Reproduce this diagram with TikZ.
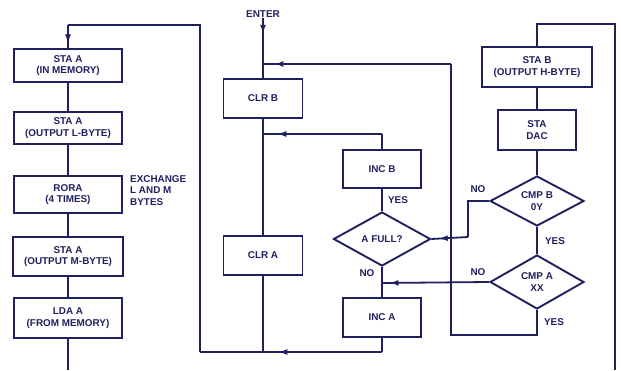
\documentclass[tikz,border=0pt]{standalone}
\usepackage{fontspec}
\setmainfont{Liberation Sans}
\usetikzlibrary{arrows.meta,shapes.geometric,decorations.markings}
\definecolor{ink}{RGB}{32,32,96}
\tikzset{
  line/.style={draw=ink,line width=1.8pt},
  box/.style={draw=ink,line width=1.9pt,rectangle,align=center,inner sep=1pt,text=ink,
    font=\fontsize{9.9}{11.3}\selectfont\bfseries},
  dia/.style={draw=ink,line width=1.9pt,diamond,align=center,inner sep=0pt,text=ink,
    font=\fontsize{9.9}{11.3}\selectfont\bfseries},
  lbl/.style={text=ink,inner sep=0pt,font=\fontsize{9.9}{11.8}\selectfont\bfseries},
  midarrow/.style={postaction={decorate},decoration={markings,
    mark=at position #1 with {\arrow{Latex[length=9pt,width=6pt]}}}},
  midarrow/.default=0.5
}
\begin{document}
\begin{tikzpicture}[x=1pt,y=-1pt]
\useasboundingbox[fill=white] (0,0) rectangle (621,370);
% left column
\node[box,minimum width=108pt,minimum height=33pt] (b1) at (68,65.5) {STA A\\(IN MEMORY)};
\node[box,minimum width=108pt,minimum height=32pt] (b2) at (68,128) {STA A\\(OUTPUT L-BYTE)};
\node[box,minimum width=108pt,minimum height=37pt] (b3) at (68,194.5) {RORA\\(4 TIMES)};
\node[box,minimum width=110pt,minimum height=39pt] (b4) at (68,256.5) {STA A\\(OUTPUT M-BYTE)};
\node[box,minimum width=108pt,minimum height=40pt] (b5) at (68,318) {LDA A\\(FROM MEMORY)};
\node[lbl,align=left,anchor=north west] (exch) at (130,175) {EXCHANGE\\L AND M\\BYTES};
\coordinate (lout) at (68,370);
% middle column
\node[lbl] (enter) at (263,14) {ENTER};
\node[box,minimum width=79pt,minimum height=39pt] (clrb) at (263,98.5) {CLR B};
\node[box,minimum width=79pt,minimum height=39pt] (clra) at (263,255.5) {CLR A};
\coordinate (j1) at (263,64);
\coordinate (j2) at (263,134);
\coordinate (jb) at (263,352);
% right-middle column
\node[box,minimum width=78pt,minimum height=38pt] (incb) at (382,169) {INC B};
\node[dia,minimum width=97pt,minimum height=54pt,aspect=1.8] (afull) at (382,239) {A FULL?};
\node[box,minimum width=78pt,minimum height=39pt] (inca) at (382,317.5) {INC A};
\coordinate (k2) at (382,134);
\coordinate (k3) at (382,283);
\coordinate (kb) at (382,352);
% right column
\node[box,minimum width=110pt,minimum height=40pt] (stab) at (537,67) {STA B\\(OUTPUT H-BYTE)};
\node[box,minimum width=78pt,minimum height=40pt] (dac) at (537,130) {STA\\DAC};
\node[dia,minimum width=94pt,minimum height=50pt,aspect=1.9] (cmpb) at (537,201) {CMP B\\0Y};
\node[dia,minimum width=94pt,minimum height=54pt,aspect=1.75] (cmpa) at (537,282) {CMP A\\XX};
% labels
\node[lbl] (yes1) at (398,200) {YES};
\node[lbl] (no1) at (367,273) {NO};
\node[lbl] (no2) at (478,189) {NO};
\node[lbl] (yes2) at (555,241) {YES};
\node[lbl] (no3) at (478,272) {NO};
\node[lbl] (yes3) at (554,322) {YES};
% helper coordinates
\coordinate (ltop) at (68,25);
\coordinate (lcorner) at (200,25);
\coordinate (lbot) at (200,352);
\coordinate (rtop) at (615,24);
\coordinate (rbot) at (615,370);
\coordinate (stabtop) at (537,24);
\coordinate (cb1) at (468,201);
\coordinate (cb2) at (468,237);
\coordinate (loop1) at (537,335);
\coordinate (loop2) at (451,335);
\coordinate (loop3) at (451,64);
% left column links
\draw[line] (b1) -- (b2);
\draw[line] (b2) -- (b3);
\draw[line] (b3) -- (b4);
\draw[line] (b4) -- (b5);
\draw[line] (b5) -- (lout);
% middle links
\draw[line,midarrow=0.35] (enter) -- (j1);
\draw[line] (j1) -- (clrb);
\draw[line] (clrb) -- (clra);
\draw[line] (clra) -- (jb);
\draw[line,midarrow=0.88] (k2) -- (j2);
\draw[line] (incb) -- (k2);
\draw[line] (incb) -- (afull);
\draw[line] (afull) -- (inca);
\draw[line] (inca) -- (kb);
\draw[line,midarrow=0.57] (kb) -- (lbot);
\draw[line] (lbot) -- (lcorner) -- (ltop);
\draw[line,midarrow=0.8] (ltop) -- (b1);
% right links
\draw[line] (rbot) -- (rtop) -- (stabtop) -- (stab);
\draw[line] (stab) -- (dac);
\draw[line] (dac) -- (cmpb);
\draw[line] (cmpb) -- (cmpa);
\draw[line] (cmpb.west) -- (cb1) -- (cb2);
\draw[line,midarrow=0.8] (cb2) -- (afull.east);
\draw[line,midarrow=0.93] (cmpa.west) -- (k3);
\draw[line] (cmpa.south) -- (loop1) -- (loop2) -- (loop3);
\draw[line,midarrow=0.94] (loop3) -- (j1);
\end{tikzpicture}
\end{document}
